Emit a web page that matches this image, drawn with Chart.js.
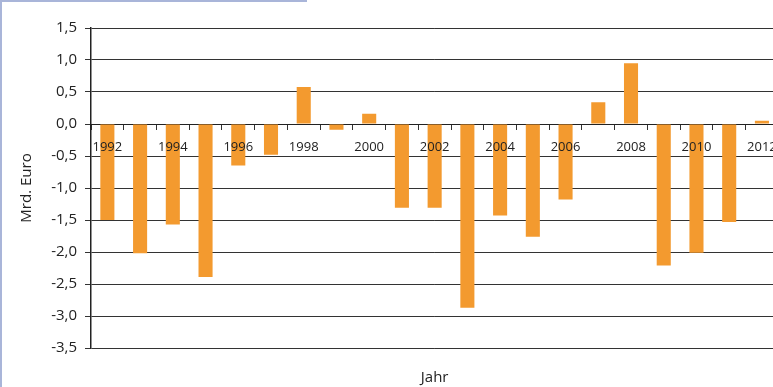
<!DOCTYPE html>
<html>
<head>
<meta charset="utf-8">
<script src="https://cdn.jsdelivr.net/npm/chart.js@4"></script>
<style>
  body { margin: 0; background: #fff; }
  #wrap { position: relative; width: 773px; height: 387px; overflow: hidden; }
  #frameLeft { position: absolute; left: 0; top: 0; width: 2px; height: 387px; background: #a9b5d9; }
  #frameTop { position: absolute; left: 0; top: 0; width: 307px; height: 2px; background: #a9b5d9; }
  canvas { position: absolute; left: 0; top: 0; }
</style>
</head>
<body>
<div id="wrap">
  <canvas id="myGraph" width="787" height="387"></canvas>
  <div id="frameLeft"></div>
  <div id="frameTop"></div>
</div>
<script>
const years = ['1992', '1993', '1994', '1995', '1996', '1997', '1998', '1999', '2000', '2001', '2002',
  '2003', '2004', '2005', '2006', '2007', '2008', '2009', '2010', '2011', '2012']
const balance = [-1.5, -2.02, -1.57, -2.39, -0.65, -0.48, 0.58, -0.09, 0.16, -1.31, -1.31,
  -2.87, -1.43, -1.76, -1.18, 0.34, 0.95, -2.21, -2.01, -1.53, 0.05]
const labeledYears = ['1992', '1994', '1996', '1998', '2000', '2002', '2004', '2006', '2008', '2010', '2012']

const fontFamily = "'Open Sans', sans-serif"

// the original is cropped on the right, so the canvas is a bit wider than the window
const ctx = document.getElementById('myGraph').getContext('2d')
new Chart(ctx, {
  type: 'bar',
  data: {
    labels: years,
    datasets: [
      {
        label: 'Mrd. Euro',
        data: balance,
        backgroundColor: '#f39a2f',
        borderWidth: 0,
        barPercentage: 0.43,
        categoryPercentage: 1.0,
      },
    ],
  },
  options: {
    responsive: false,
    animation: false,
    layout: { padding: { top: 28, right: 3, bottom: 0, left: 0 } },
    plugins: {
      legend: { display: false },
      tooltip: { enabled: false },
      title: {
        display: true,
        text: 'Jahr',
        position: 'bottom',
        fullSize: false,
        color: '#222',
        font: { family: fontFamily, size: 15, weight: 'normal' },
        padding: { top: 21, bottom: 0 },
      },
    },
    scales: {
      x: {
        // year labels sit on the zero line, drawn over the bars
        position: { y: 0 },
        grid: {
          drawOnChartArea: false,
          drawTicks: true,
          tickLength: 5,
          color: '#333',
        },
        border: { display: true, color: '#222', width: 1 },
        ticks: {
          z: 1,
          autoSkip: false,
          maxRotation: 0,
          padding: 10,
          color: '#222',
          font: { family: fontFamily, size: 13 },
          callback: function (value) {
            const label = this.getLabelForValue(value)
            return labeledYears.includes(label) ? label : ''
          },
        },
      },
      y: {
        min: -3.5,
        max: 1.5,
        afterFit: (scale) => {
          scale.width = 91
        },
        grid: { color: '#333', tickLength: 6 },
        border: { display: true, color: '#222', width: 1.5 },
        ticks: {
          stepSize: 0.5,
          padding: 8,
          color: '#222',
          font: { family: fontFamily, size: 15 },
          callback: (v) => v.toFixed(1).replace('.', ','),
        },
        title: {
          display: true,
          text: 'Mrd. Euro',
          color: '#222',
          font: { family: fontFamily, size: 15 },
          padding: { top: 18, bottom: 0 },
        },
      },
    },
  },
})
</script>
</body>
</html>
